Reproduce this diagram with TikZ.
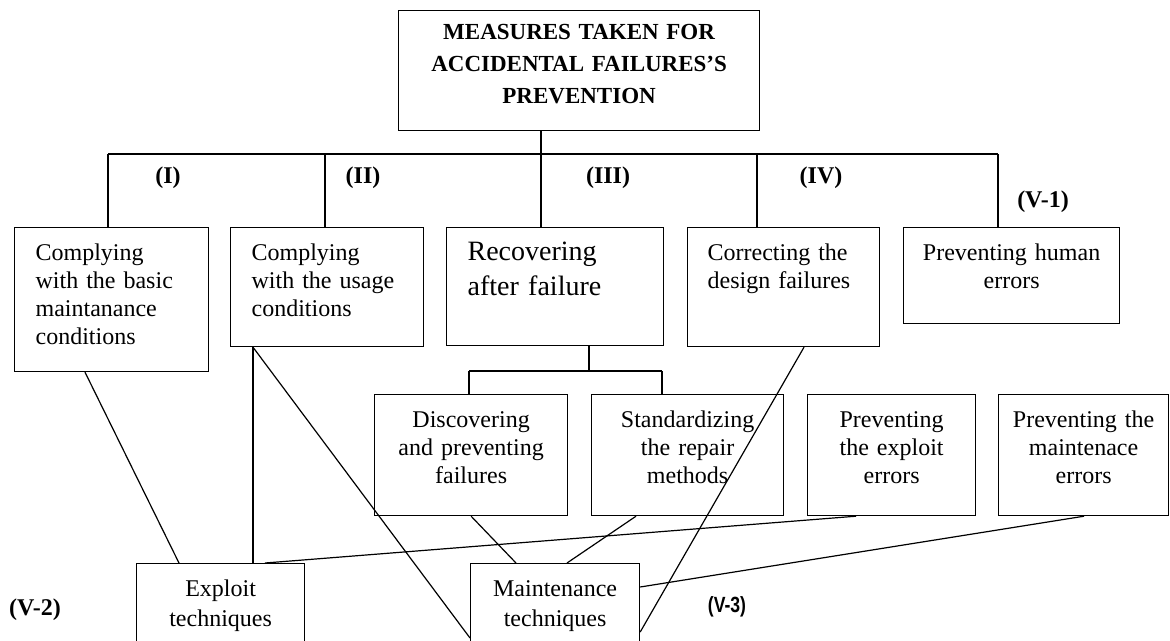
\documentclass[tikz,border=0pt]{standalone}
\usepackage{fontspec}
\setmainfont{Liberation Serif}
\setsansfont{Liberation Sans}
\usepackage{graphicx}

\begin{document}
\begin{tikzpicture}[
    x=0.5pt, y=-0.5pt,
    box/.style={rectangle, draw, line width=0.6pt, anchor=north west, inner xsep=3pt, inner ysep=4.5pt, text height=12pt, font=\fontsize{12}{14}\selectfont},
    lbox/.style={box, align=left, inner xsep=10.5pt},
    cbox/.style={box, align=center},
    tag/.style={font=\bfseries\fontsize{12}{14}\selectfont},
    link/.style={line width=0.6pt}
]
\clip (0,0) rectangle (1170,641);

\node[box, align=center, font=\bfseries\fontsize{11.5}{16}\selectfont, text height=10pt, text width=174.5pt, text depth=41pt] (top) at (398,10) {MEASURES TAKEN FOR\\ACCIDENTAL FAILURES'S\\PREVENTION};

\node[lbox, text width=76pt, text depth=51pt] (b1) at (14,227) {Complying\\with the basic\\maintanance\\conditions};
\node[lbox, text width=75.5pt, text depth=38.5pt] (b2) at (230,227) {Complying\\with the usage\\conditions};
\node[lbox, text width=87.5pt, text depth=38pt, font=\fontsize{14}{17.5}\selectfont] (b3) at (446,227) {Recovering\\after failure};
\node[lbox, inner xsep=10pt, text width=76pt, text depth=38.5pt] (b4) at (687,227) {Correcting the\\design failures};
\node[cbox, text width=102pt, text depth=27pt] (b5) at (903,227) {Preventing human\\errors};

\node[cbox, text width=90.5pt, text depth=39.5pt] (disc) at (374,394) {Discovering\\and preventing\\failures};
\node[cbox, text width=90pt, text depth=39.5pt] (stand) at (591,394) {Standardizing\\the repair\\methods};
\node[cbox, text width=78pt, text depth=39.5pt] (pexp) at (807,394) {Preventing\\the exploit\\errors};
\node[cbox, text width=79pt, text depth=39.5pt] (pmnt) at (998,394) {Preventing the\\maintenace\\errors};

\node[cbox, text width=78pt, text depth=48pt, font=\fontsize{12}{15}\selectfont] (expl) at (136,563) {Exploit\\techniques};
\node[cbox, text width=78.5pt, text depth=48pt, font=\fontsize{12}{15}\selectfont] (mnt) at (470,563) {Maintenance\\techniques};

\node[tag] (t1) at (168,178) {(I)};
\node[tag] (t2) at (363,178) {(II)};
\node[tag] (t3) at (608,178) {(III)};
\node[tag] (t4) at (821,178) {(IV)};
\node[tag] (t5) at (1043,202) {(V-1)};
\node[tag] (t6) at (35,610) {(V-2)};
\node[font=\sffamily\bfseries\fontsize{11}{13}\selectfont] (t7) at (727,607) {\scalebox{0.8}[1]{(V-3)}};

\coordinate (bus) at (541,154);
\coordinate (split) at (589,371);
\draw[link] (bus |- top.south) -- (bus);
\foreach \b/\s in {b1/47, b2/47.5, b3/47.5, b4/35, b5/47.5} {
  \coordinate (d\b) at ([xshift=\s pt]\b.north west);
  \draw[link] (d\b) -- (d\b |- bus);
}
\draw[link] (db1 |- bus) -- (db5 |- bus);

\draw[link] (split |- b3.south) -- (split);
\foreach \b/\s in {disc/47.5, stand/35.5} {
  \coordinate (s\b) at ([xshift=\s pt]\b.north west);
  \draw[link] (s\b) -- (s\b |- split);
}
\draw[link] (sdisc |- split) -- (sstand |- split);

\draw[link] ([xshift=35.5pt]b1.south west) -- ([xshift=21.5pt]expl.north west);
\coordinate (u2) at ([xshift=11.5pt]b2.south west);
\draw[link] (u2) -- (u2 |- expl.north);
\draw[link] (u2) -- ([yshift=-37.5pt]mnt.north west);
\draw[link] (disc.south) -- ([xshift=23pt]mnt.north west);
\draw[link] ([xshift=22.5pt]stand.south west) -- ([xshift=48.5pt]mnt.north west);
\draw[link] ([xshift=24.5pt]pexp.south west) -- ([xshift=64.5pt]expl.north west);
\draw[link] ([xshift=43pt]pmnt.south west) -- ([yshift=-12pt]mnt.north east);
\draw[link] ([xshift=58.5pt]b4.south west) -- ([yshift=-34.5pt]mnt.north east);
\end{tikzpicture}
\end{document}
